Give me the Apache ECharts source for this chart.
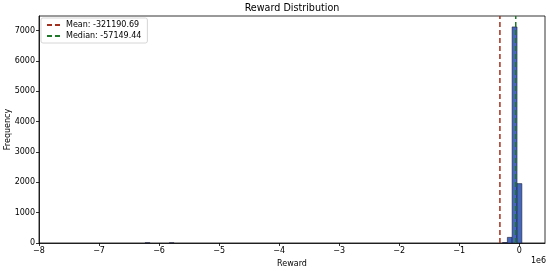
<!DOCTYPE html>
<html><head><meta charset="utf-8">
<script src="https://cdn.jsdelivr.net/npm/echarts@6/dist/echarts.min.js"></script>
<style>html,body{margin:0;padding:0;background:#fff}#c{width:550px;height:271px}</style>
</head><body><div id="c"></div>
<script>
// Histogram bins (reward in units of 1e6) with non-zero counts
const binLo  = [-6.232, -5.830, -0.277, -0.197, -0.117, -0.036];
const binHi  = [-6.152, -5.750, -0.197, -0.117, -0.036,  0.044];
const counts = [8, 5, 15, 185, 7115, 1955];
const meanVal = -321190.69;
const medianVal = -57149.44;
const xTicks = [-8, -7, -6, -5, -4, -3, -2, -1, 0];
const yTicks = [0, 1000, 2000, 3000, 4000, 5000, 6000, 7000];
const xMin = -8, xMax = 0.43, yMax = 7475;

const font = 'DejaVu Sans';
const chart = echarts.init(document.getElementById('c'));
const bars = binLo.map((lo, i) => [lo, binHi[i], counts[i]]);
chart.setOption({
  animation: false,
  title: {text: 'Reward Distribution', left: 292, top: 3, padding: 0, textAlign: 'center',
    textStyle: {fontFamily: font, fontSize: 9.6, fontWeight: 'normal', color: '#000'}},
  grid: {left: 39, right: 5, top: 16, bottom: 28, show: true, borderColor: '#000', borderWidth: 0.8,
    backgroundColor: 'transparent', containLabel: false, outerBoundsMode: 'none'},
  legend: {
    left: 41, top: 18, orient: 'vertical', itemGap: 3, itemWidth: 14, itemHeight: 8,
    padding: [3, 6, 3, 5], borderColor: '#ccc', borderWidth: 0.8, borderRadius: 2, backgroundColor: '#fff',
    textStyle: {fontFamily: font, fontSize: 8, color: '#000'},
    itemStyle: {opacity: 0},
    data: ['Mean: -321190.69', 'Median: -57149.44']
  },
  xAxis: {
    type: 'value', min: xMin, max: xMax, interval: 1,
    name: 'Reward', nameLocation: 'middle', nameGap: 17, nameMoveOverlap: false,
    nameTextStyle: {fontFamily: font, fontSize: 8, color: '#000'},
    axisLine: {show: true, onZero: false, lineStyle: {color: '#000', width: 0.8}},
    axisTick: {show: true, length: 3, lineStyle: {color: '#000', width: 0.8}, customValues: xTicks},
    axisLabel: {fontFamily: font, fontSize: 8, color: '#000', margin: 4, customValues: xTicks,
      formatter: v => (v < 0 ? '\u2212' + Math.abs(v) : String(v))},
    splitLine: {show: false}
  },
  yAxis: {
    type: 'value', min: 0, max: yMax, interval: 1000,
    name: 'Frequency', nameLocation: 'middle', nameGap: 27, nameMoveOverlap: false,
    nameTextStyle: {fontFamily: font, fontSize: 8, color: '#000'},
    axisLine: {show: true, onZero: false, lineStyle: {color: '#000', width: 0.8}},
    axisTick: {show: true, length: 3, lineStyle: {color: '#000', width: 0.8}, customValues: yTicks},
    axisLabel: {fontFamily: font, fontSize: 8, color: '#000', margin: 4, customValues: yTicks,
      formatter: v => String(v)},
    splitLine: {show: false}
  },
  graphic: [{type: 'text', right: 4, top: 257, style: {text: '1e6', fontFamily: font, fontSize: 8, fill: '#000'}}],
  series: [
    {
      type: 'custom', name: 'hist', z: 2,
      renderItem: (params, api) => {
        const p0 = api.coord([api.value(0), 0]);
        const p1 = api.coord([api.value(1), api.value(2)]);
        return {type: 'rect', shape: {x: p0[0], y: p1[1], width: p1[0] - p0[0], height: p0[1] - p1[1]},
          style: {fill: '#4466bb', stroke: '#1a1a2e', lineWidth: 0.6}};
      },
      encode: {x: [0, 1], y: 2},
      data: bars
    },
    {
      type: 'line', name: 'Mean: -321190.69', z: 5, symbol: 'none',
      lineStyle: {color: '#a2301c', type: [5, 3], width: 1.5},
      itemStyle: {color: '#a2301c'},
      data: [[meanVal / 1e6, 0], [meanVal / 1e6, yMax]]
    },
    {
      type: 'line', name: 'Median: -57149.44', z: 5, symbol: 'none',
      lineStyle: {color: '#1e7a2a', type: [5, 3], width: 1.5},
      itemStyle: {color: '#1e7a2a'},
      data: [[medianVal / 1e6, 0], [medianVal / 1e6, yMax]]
    }
  ]
});
</script></body></html>
